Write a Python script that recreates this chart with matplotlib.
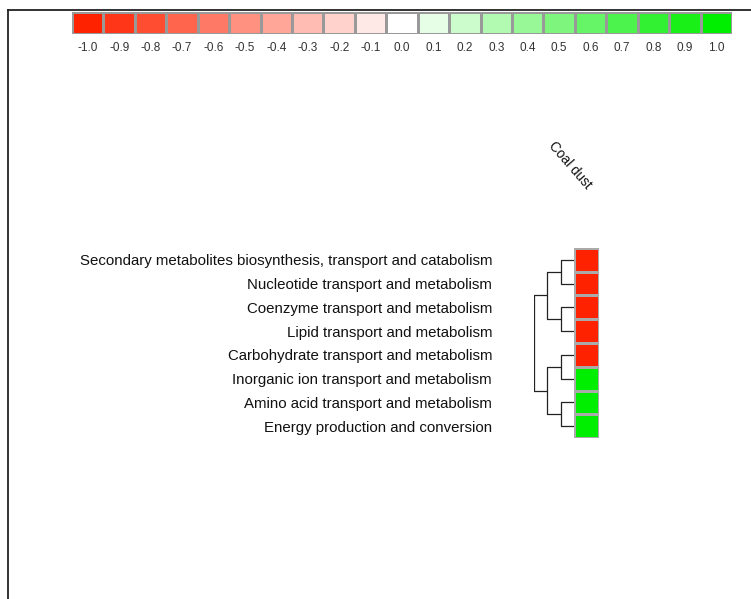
import numpy as np
import matplotlib
matplotlib.use("Agg")
import matplotlib.pyplot as plt
from matplotlib.colors import LinearSegmentedColormap
from matplotlib.lines import Line2D

plt.rcParams["font.family"] = ["Liberation Sans", "DejaVu Sans"]

# data
rows = [
    "Secondary metabolites biosynthesis, transport and catabolism",
    "Nucleotide transport and metabolism",
    "Coenzyme transport and metabolism",
    "Lipid transport and metabolism",
    "Carbohydrate transport and metabolism",
    "Inorganic ion transport and metabolism",
    "Amino acid transport and metabolism",
    "Energy production and conversion",
]
columns = ["Coal dust"]
values = [-1, -1, -1, -1, -1, 1, 1, 1]
scale_levels = [-1.0, -0.9, -0.8, -0.7, -0.6, -0.5, -0.4, -0.3, -0.2, -0.1, 0.0,
                0.1, 0.2, 0.3, 0.4, 0.5, 0.6, 0.7, 0.8, 0.9, 1.0]
scale_labels = ["-1.0", "-0.9", "-0.8", "-0.7", "-0.6", "-0.5", "-0.4", "-0.3", "-0.2", "-0.1",
                "0.0", "0.1", "0.2", "0.3", "0.4", "0.5", "0.6", "0.7", "0.8", "0.9", "1.0"]

# row clustering: (left, right, height); leaves 0..7, new clusters 8..
linkage = [
    (0, 1, 1.0),
    (2, 3, 1.0),
    (4, 5, 1.0),
    (6, 7, 1.0),
    (8, 9, 2.0),
    (10, 11, 2.0),
    (12, 13, 3.0),
]

W, H = 751, 599
fig = plt.figure(figsize=(W / 100, H / 100), dpi=100)
fig.patch.set_facecolor("white")


def px_axes(x0, y0, x1, y1):
    return fig.add_axes([x0 / W, 1 - y1 / H, (x1 - x0) / W, (y1 - y0) / H])


cmap = LinearSegmentedColormap.from_list("rwg", ["#ff2200", "#ffffff", "#00ee00"])

# colour key
ax_key = px_axes(72, 12, 732, 34)
n_key = len(scale_levels)
ax_key.pcolormesh(np.arange(n_key + 1), [0, 1], np.array(scale_levels)[None, :],
                  cmap=cmap, vmin=-1, vmax=1, edgecolor="#999999", linewidth=1.0)
ax_key.set_xlim(0, n_key)
ax_key.set_ylim(0, 1)
ax_key.set_xticks(np.arange(n_key) + 0.5)
ax_key.set_xticklabels(scale_labels, fontsize=8.5, color="#333333")
ax_key.tick_params(length=0, pad=6)
ax_key.set_yticks([])
for s in ax_key.spines.values():
    s.set_visible(False)

# heatmap
ax_hm = px_axes(574, 248, 599, 438)
data = np.array(values, dtype=float)[:, None]
ax_hm.pcolormesh(np.arange(len(columns) + 1), np.arange(len(rows) + 1), data,
                 cmap=cmap, vmin=-1, vmax=1, edgecolor="#aaaaaa", linewidth=0.8)
ax_hm.set_xlim(0, len(columns))
ax_hm.set_ylim(len(rows), 0)
ax_hm.set_yticks(np.arange(len(rows)) + 0.5)
ax_hm.set_yticklabels(rows, fontsize=10.8, color="#111111")
ax_hm.tick_params(axis="y", length=0, pad=59)
ax_hm.set_xticks([])
for s in ax_hm.spines.values():
    s.set_visible(False)
for j, c in enumerate(columns):
    fig.text(570 / W, 1 - 165 / H, c, rotation=-49, ha="center", va="center",
             fontsize=9.8, color="#111111")

# dendrogram
ax_d = px_axes(534, 248, 574, 438)
pos = {i: i + 0.5 for i in range(len(rows))}
hgt = {i: 0.0 for i in range(len(rows))}
for k, (a, b, h) in enumerate(linkage):
    node = len(rows) + k
    ax_d.plot([hgt[a], h, h, hgt[b]], [pos[a], pos[a], pos[b], pos[b]],
              color="#222222", linewidth=0.9, solid_capstyle="butt")
    pos[node] = (pos[a] + pos[b]) / 2
    hgt[node] = h
ax_d.set_xlim(3.0, 0)
ax_d.set_ylim(len(rows), 0)
ax_d.axis("off")

# outer frame
fig.add_artist(Line2D([8 / W, 8 / W], [0, 1 - 10 / H], color="#222222", linewidth=1.3))
fig.add_artist(Line2D([8 / W, 1], [1 - 10 / H, 1 - 10 / H], color="#222222", linewidth=1.3))

fig.savefig("out.png", dpi=100)
